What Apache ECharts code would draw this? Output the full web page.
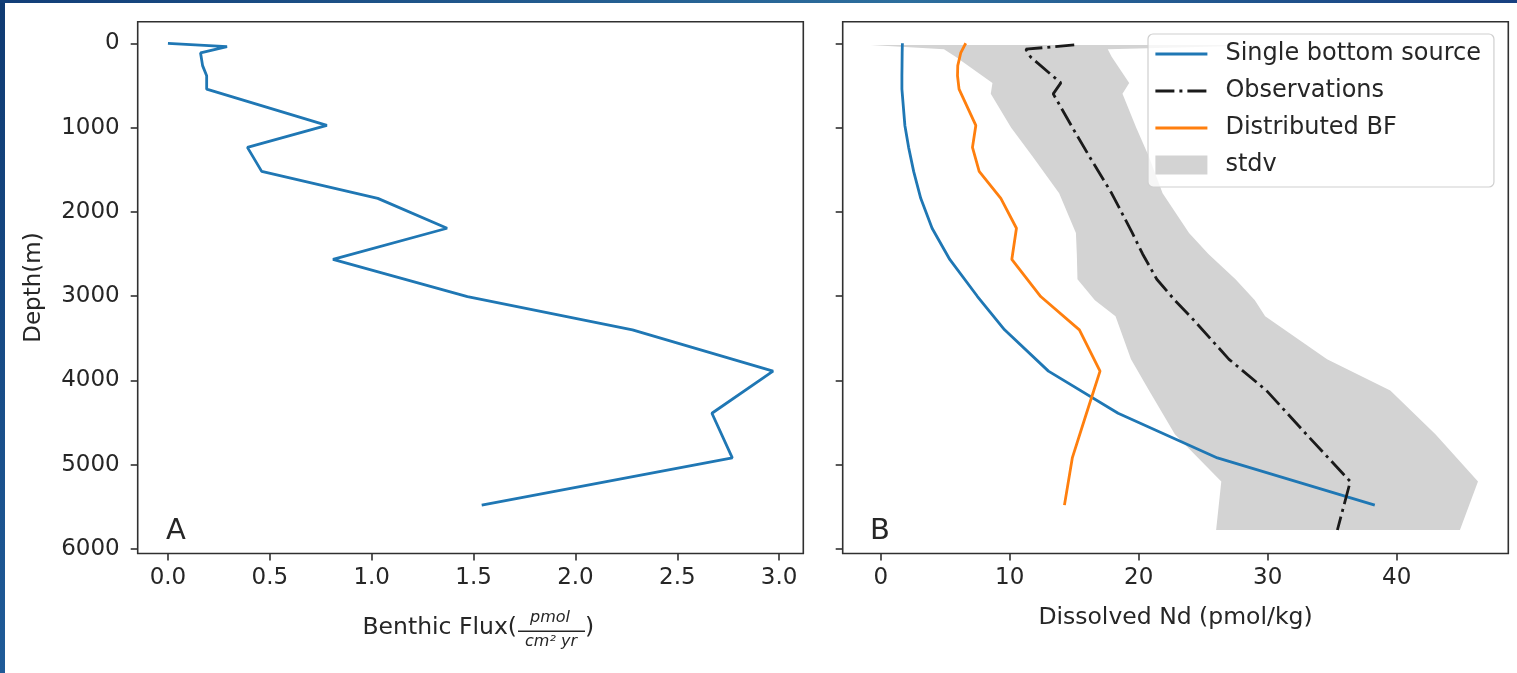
<!DOCTYPE html>
<html>
<head>
<meta charset="utf-8">
<script src="https://cdn.jsdelivr.net/npm/echarts@6/dist/echarts.min.js"></script>
<style>
html, body { margin: 0; padding: 0; background: #ffffff; }
#chart { width: 1517px; height: 673px; }
</style>
</head>
<body>
<div id="chart"></div>
<script>
// Model layer depths (m), shared by panel A and the two model profiles in panel B
const layerDepth = [0, 40, 115, 265, 385, 545, 975, 1235, 1520, 1840, 2195, 2565, 3005, 3400, 3890, 4390, 4920, 5480];
// Benthic flux prescribed per layer (pmol / cm2 / yr)
const benthicFlux = [0, 0.29, 0.16, 0.17, 0.19, 0.19, 0.78, 0.39, 0.46, 1.03, 1.37, 0.81, 1.47, 2.28, 2.97, 2.67, 2.77, 1.54];
// Modelled dissolved Nd (pmol/kg)
const singleBottomSource = [1.68, 1.67, 1.66, 1.65, 1.64, 1.64, 1.87, 2.16, 2.55, 3.1, 3.98, 5.35, 7.5, 9.6, 13.0, 18.4, 26.1, 38.3];
const distributedBF = [6.59, 6.45, 6.2, 5.97, 5.95, 6.07, 7.37, 7.11, 7.63, 9.31, 10.52, 10.16, 12.4, 15.4, 17.0, 15.95, 14.85, 14.24];
// Observed profile and its standard deviation envelope
const obsDepth = [20, 70, 160, 470, 600, 1000, 1350, 1780, 2250, 2500, 2800, 3050, 3240, 3750, 4120, 4640, 5200, 5775];
const observedNd = [15.0, 11.25, 11.6, 13.96, 13.37, 14.86, 16.2, 17.9, 19.5, 20.3, 21.4, 22.8, 24.0, 27.0, 29.9, 33.0, 36.4, 35.4];
const stdvLow = [-0.78, 4.9, 5.8, 8.66, 8.53, 10.1, 11.8, 13.83, 15.13, 15.2, 15.25, 16.6, 18.2, 19.4, 20.8, 22.8, 26.4, 26.0];
const stdvHigh = [30.8, 17.6, 17.9, 19.26, 18.74, 19.8, 20.8, 21.85, 23.9, 25.4, 27.5, 29.0, 29.8, 34.6, 39.5, 43.0, 46.3, 44.9];
// Tick values
const depthTicks = [0, 1000, 2000, 3000, 4000, 5000, 6000];
const fluxTicks = [0, 0.5, 1.0, 1.5, 2.0, 2.5, 3.0];
const ndTicks = [0, 10, 20, 30, 40];

const FONT = 'DejaVu Sans';
const INK = '#262626';
const SPINE = '#303030';
const LW = 2.8;

function pairs(xs, ys) { return xs.map((x, i) => [x, ys[i]]); }

const chart = echarts.init(document.getElementById('chart'), null, { renderer: 'canvas' });

function depthAxis(gridIndex, showLabels) {
  return {
    type: 'value', gridIndex: gridIndex, inverse: true, min: -256, max: 6054,
    name: showLabels ? 'Depth(m)' : '', nameLocation: 'middle', nameGap: 92, nameRotate: 90,
    nameTextStyle: { fontSize: 23, color: INK, fontFamily: FONT },
    axisLine: { show: false, onZero: false },
    axisTick: { show: true, inside: false, length: 7, customValues: depthTicks, lineStyle: { color: SPINE, width: 1.6 } },
    axisLabel: { show: showLabels, customValues: depthTicks, margin: 18, fontSize: 23, color: INK, fontFamily: FONT, formatter: v => String(v) },
    splitLine: { show: false }
  };
}

// legend entries for lines show only the stroke, no marker
const hideMarker = { opacity: 0 };

const option = {
  animation: false,
  backgroundColor: '#ffffff',
  textStyle: { fontFamily: FONT },
  grid: [
    { left: 137.7, top: 21.7, width: 665.6, height: 531.8, show: true, borderColor: SPINE, borderWidth: 1.6, backgroundColor: 'transparent', outerBoundsMode: 'none' },
    { left: 842.7, top: 21.7, width: 665.6, height: 531.8, show: true, borderColor: SPINE, borderWidth: 1.6, backgroundColor: 'transparent', outerBoundsMode: 'none' }
  ],
  xAxis: [
    {
      type: 'value', gridIndex: 0, min: -0.1485, max: 3.1185, position: 'bottom',
      axisLine: { show: false, onZero: false },
      axisTick: { show: true, inside: false, length: 7, customValues: fluxTicks, lineStyle: { color: SPINE, width: 1.6 } },
      axisLabel: { customValues: fluxTicks, margin: 13, fontSize: 23, color: INK, fontFamily: FONT, formatter: v => v.toFixed(1) },
      splitLine: { show: false }
    },
    {
      type: 'value', gridIndex: 1, min: -2.95, max: 48.65, position: 'bottom',
      name: 'Dissolved Nd (pmol/kg)', nameLocation: 'middle', nameGap: 52,
      nameTextStyle: { fontSize: 23.5, color: INK, fontFamily: FONT },
      axisLine: { show: false, onZero: false },
      axisTick: { show: true, inside: false, length: 7, customValues: ndTicks, lineStyle: { color: SPINE, width: 1.6 } },
      axisLabel: { customValues: ndTicks, margin: 13, fontSize: 23, color: INK, fontFamily: FONT, formatter: v => String(v) },
      splitLine: { show: false }
    }
  ],
  yAxis: [depthAxis(0, true), depthAxis(1, false)],
  legend: {
    orient: 'vertical', left: 1148, top: 34,
    data: [
      { name: 'Single bottom source', itemStyle: hideMarker },
      { name: 'Observations', itemStyle: hideMarker },
      { name: 'Distributed BF', itemStyle: hideMarker },
      { name: 'stdv', icon: 'rect' }
    ],
    itemWidth: 52, itemHeight: 19, itemGap: 13,
    lineStyle: { width: LW },
    padding: [8, 13, 10, 6],
    backgroundColor: 'rgba(255,255,255,0.8)', borderColor: '#cfcfcf', borderWidth: 1.2, borderRadius: 5,
    textStyle: { fontSize: 24, color: INK, fontFamily: FONT, lineHeight: 24, padding: [0, 0, 0, 13] },
    selectedMode: false
  },
  series: [
    {
      name: 'Benthic flux', type: 'line', xAxisIndex: 0, yAxisIndex: 0,
      data: pairs(benthicFlux, layerDepth), symbol: 'none', z: 3,
      lineStyle: { color: '#1f77b4', width: LW }, itemStyle: { color: '#1f77b4' }
    },
    {
      name: 'stdv', type: 'custom', xAxisIndex: 1, yAxisIndex: 1, z: 1,
      itemStyle: { color: '#d3d3d3' },
      data: [[stdvLow[0], obsDepth[0]]],
      encode: { x: 0, y: 1 },
      renderItem: function (params, api) {
        const pts = [];
        for (let i = 0; i < obsDepth.length; i++) pts.push(api.coord([stdvLow[i], obsDepth[i]]));
        for (let i = obsDepth.length - 1; i >= 0; i--) pts.push(api.coord([stdvHigh[i], obsDepth[i]]));
        return { type: 'polygon', shape: { points: pts }, style: { fill: '#d3d3d3' } };
      }
    },
    {
      name: 'Single bottom source', type: 'line', xAxisIndex: 1, yAxisIndex: 1,
      data: pairs(singleBottomSource, layerDepth), symbol: 'none', z: 3,
      lineStyle: { color: '#1f77b4', width: LW }, itemStyle: { color: '#1f77b4' }
    },
    {
      name: 'Observations', type: 'line', xAxisIndex: 1, yAxisIndex: 1,
      data: pairs(observedNd, obsDepth), symbol: 'none', z: 4,
      lineStyle: { color: '#1a1a1a', width: LW, type: [19, 5, 3, 5] }, itemStyle: { color: '#1a1a1a' }
    },
    {
      name: 'Distributed BF', type: 'line', xAxisIndex: 1, yAxisIndex: 1,
      data: pairs(distributedBF, layerDepth), symbol: 'none', z: 5,
      lineStyle: { color: '#ff7f0e', width: LW }, itemStyle: { color: '#ff7f0e' }
    }
  ],
  graphic: [
    {
      type: 'rect', left: 0, top: 0, shape: { width: 5, height: 673 }, silent: true,
      style: { fill: new echarts.graphic.LinearGradient(0, 0, 0, 1, [{ offset: 0, color: '#0f3a72' }, { offset: 1, color: '#1f5b98' }]) }
    },
    {
      type: 'rect', left: 0, top: 0, shape: { width: 1517, height: 3 }, silent: true,
      style: { fill: new echarts.graphic.LinearGradient(0, 0, 1, 0, [{ offset: 0, color: '#123e78' }, { offset: 0.6, color: '#2d6e9d' }, { offset: 1, color: '#173f80' }]) }
    },
    { type: 'text', x: 166, y: 531, style: { text: 'A', fontSize: 29, fontFamily: FONT, fill: INK, verticalAlign: 'middle' } },
    { type: 'text', x: 870, y: 531, style: { text: 'B', fontSize: 29, fontFamily: FONT, fill: INK, verticalAlign: 'middle' } },
    // Panel A x-axis title with a stacked unit fraction
    { type: 'text', x: 517, y: 628, style: { text: 'Benthic Flux(', fontSize: 23.5, fontFamily: FONT, fill: INK, align: 'right', verticalAlign: 'middle' } },
    { type: 'text', x: 550, y: 618, style: { text: 'pmol', fontSize: 16, fontStyle: 'italic', fontFamily: FONT, fill: INK, align: 'center', verticalAlign: 'middle' } },
    { type: 'rect', shape: { x: 518, y: 630.5, width: 67, height: 1.5 }, style: { fill: INK } },
    { type: 'text', x: 551, y: 642, style: { text: 'cm\u00b2 yr', fontSize: 16, fontStyle: 'italic', fontFamily: FONT, fill: INK, align: 'center', verticalAlign: 'middle' } },
    { type: 'text', x: 585, y: 628, style: { text: ')', fontSize: 23.5, fontFamily: FONT, fill: INK, align: 'left', verticalAlign: 'middle' } }
  ]
};

chart.setOption(option);
</script>
</body>
</html>
